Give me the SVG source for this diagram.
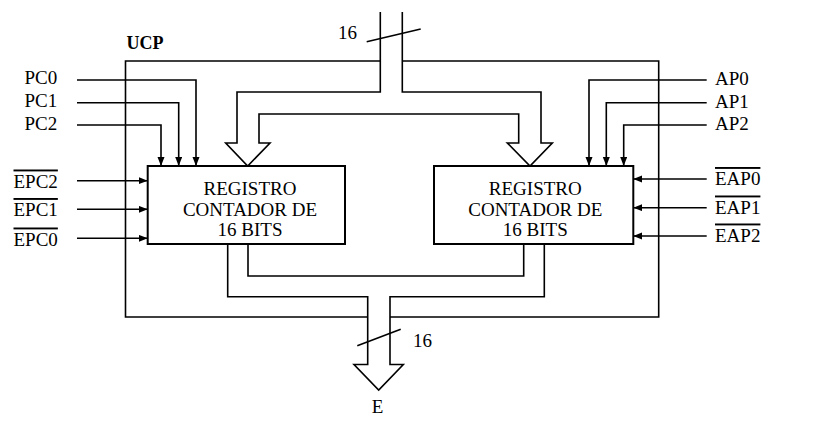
<svg xmlns="http://www.w3.org/2000/svg" width="821" height="423" viewBox="0 0 821 423">
<style>
text{font-family:"Liberation Serif","Times New Roman",serif;font-size:19px;fill:#000}
.b{font-weight:bold;font-size:18px}
.ol{text-decoration:overline}
.c{text-anchor:middle}
.ln{fill:none;stroke:#000;stroke-width:1.6}
.bx{fill:#fff;stroke:#000;stroke-width:2}
.sig{fill:none;stroke:#000;stroke-width:1.6;marker-end:url(#ah)}
</style>
<defs>
<marker id="ah" markerUnits="userSpaceOnUse" markerWidth="10" markerHeight="8" refX="9" refY="3.5" orient="auto">
<path d="M0,0 L9,3.5 L0,7 z" fill="#000"/>
</marker>
</defs>
<rect width="821" height="423" fill="#fff"/>
<g id="ucp">
<path class="ln" d="M380.3,61 H125.5 V317 H367.7 M390,317 H658.7 V61 H402.3" stroke-width="2"/>
<text class="b" x="126.5" y="48.5">UCP</text>
</g>
<g id="connectors">
<path class="ln" d="M380.3,12 V92 H237 V143 H225.7 L247.7,166 L270,143 H259 V114 H518.7 V143 H507.3 L530,166 L552.3,143 H541 V92 H402.3 V12"/>
<path class="ln" d="M366.7,41.7 L420.7,29"/>
<path class="ln" d="M248,244 V276 H523.7 V244"/>
<path class="ln" d="M227.7,244 V296.7 H367.7 V364.5 H354 L378.7,390 L403.3,364.5 H390 V296.7 H544.3 V244"/>
<path class="ln" d="M357.3,345.7 L400.7,329.3"/>
<path class="sig" d="M77,80 H196 V166"/>
<path class="sig" d="M77,102.7 H178.7 V166"/>
<path class="sig" d="M77,125 H161 V166"/>
<path class="sig" d="M706.7,80 H589 V166"/>
<path class="sig" d="M706.7,102.7 H606.3 V166"/>
<path class="sig" d="M706.7,125 H623.7 V166"/>
<path class="sig" d="M77,180.7 H147.7"/>
<path class="sig" d="M77,209.3 H147.7"/>
<path class="sig" d="M77,238.3 H147.7"/>
<path class="sig" d="M706.7,179 H633.3"/>
<path class="sig" d="M706.7,207.7 H633.3"/>
<path class="sig" d="M706.7,236 H633.3"/>
</g>
<g id="labels">
<text x="338" y="39.3">16</text>
<text x="413" y="346.7">16</text>
<text class="c" x="377.5" y="412.5">E</text>
<text x="24.5" y="84">PC0</text>
<text x="24.5" y="107">PC1</text>
<text x="24.5" y="129.5">PC2</text>
<text x="715" y="84.5">AP0</text>
<text x="715" y="107.5">AP1</text>
<text x="715" y="130">AP2</text>
<text class="ol" x="13.5" y="187.5">EPC2</text>
<text class="ol" x="13.5" y="216">EPC1</text>
<text class="ol" x="13.5" y="245.5">EPC0</text>
<text class="ol" x="715" y="185">EAP0</text>
<text class="ol" x="715" y="213.5">EAP1</text>
<text class="ol" x="715" y="241.5">EAP2</text>
</g>
<g id="reg-left">
<rect class="bx" x="147.7" y="166" width="197.3" height="78"/>
<text class="c" x="250" y="195">REGISTRO</text>
<text class="c" x="250" y="215.5">CONTADOR DE</text>
<text class="c" x="250" y="236">16 BITS</text>
</g>
<g id="reg-right">
<rect class="bx" x="434" y="166" width="199.3" height="78"/>
<text class="c" x="535.3" y="195">REGISTRO</text>
<text class="c" x="535.3" y="215.5">CONTADOR DE</text>
<text class="c" x="535.3" y="236">16 BITS</text>
</g>
</svg>
